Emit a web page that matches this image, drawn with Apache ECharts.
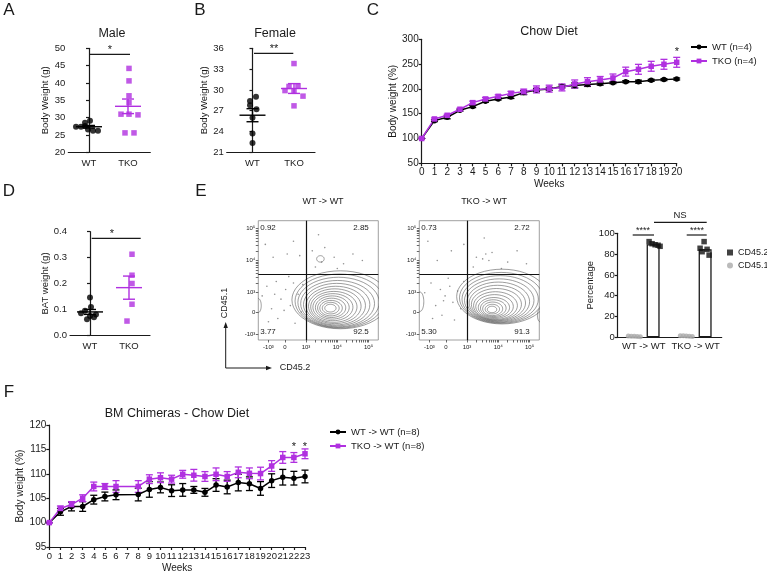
<!DOCTYPE html>
<html><head><meta charset="utf-8">
<script src="https://cdn.jsdelivr.net/npm/echarts@6/dist/echarts.min.js"></script>
<style>html,body{margin:0;padding:0;background:#fff}#c{width:767px;height:574px}</style>
</head><body><div id="c"></div>
<script>
const FONT = 'Liberation Sans, Arial, Helvetica, sans-serif';
const PURPLE = '#b030e0';
const INK = '#1a1a1a';

// ---- Panel A / B / D : dot plots ----
const dotCats = ['WT', 'TKO'];
const maleWT = [27.4, 27.4, 28.5, 27.6, 29.1, 26.6, 26.2, 26.2];
const maleTKO = [44.2, 40.6, 36.3, 34.3, 31.0, 31.0, 30.8, 25.6, 25.6];
const femaleWT = [29.0, 28.4, 27.8, 27.2, 26.0, 23.7, 22.35];
const femaleTKO = [33.8, 30.5, 30.6, 29.9, 29.8, 29.1, 27.7];
const batWT = [0.146, 0.109, 0.095, 0.085, 0.08, 0.075, 0.07, 0.062];
const batTKO = [0.313, 0.232, 0.2, 0.12, 0.055];
// horizontal jitter (px) of each dot
const maleWTJit = [-13, -8, -4, -4, 1, -1, 4, 9];
const maleTKOJit = [1, 1, 1, 1, -7, 1, 10, -3, 6];
const femaleWTJit = [3.5, -2.5, -2.5, 4, 0, 0, 0];
const femaleTKOJit = [0, -5, 4, -9, 0, 9, 0];
const batWTJit = [0, 1, -5, -9, 6, 0, 4, -3];
const batTKOJit = [3, 3, 3, 3, -2];

// ---- Panel C : Chow diet ----
const weeksC = [0,1,2,3,4,5,6,7,8,9,10,11,12,13,14,15,16,17,18,19,20];
const chowWT = [100,136,142.7,157,164.3,175,179.7,183.7,192.5,198,200,205,207,209,210.6,212.6,214.6,214.6,217.3,218.7,220];
const chowWTsem = [0,2,3,2,2,2,2,3,4,3,3,3,5,4,3,2,2,3,2,2,2];
const chowTKO = [100,139.4,146.8,159,172.3,179.7,185,191,194.5,199,200.5,203,210,214.6,218,222,234.8,239.5,245.6,249.6,253.6];
const chowTKOsem = [0,2,2,2,3,3,3,4,5,7,7,7,8,8,7,8,9,10,10,10,10];

// ---- Panel E : flow + bar ----
const flowXTicks = [1.80, 2.33, 3, 4, 5];
const flowXTickLabels = ['-10³', '0', '10³', '10⁴', '10⁵'];
const flowYTicks = [1.717, 2.379, 3, 4, 5];
const flowYTickLabels = ['-10³', '0', '10³', '10⁴', '10⁵'];
const quadWT = ['0.92', '2.85', '3.77', '92.5'];
const quadTKO = ['0.73', '2.72', '5.30', '91.3'];
// contour levels: [centreX, centreY, radiusX, radiusY] in display units
const contoursWT = [
  [4.10,2.78,1.55,0.90],[4.07,2.74,1.42,0.84],[4.04,2.70,1.30,0.78],[4.01,2.66,1.18,0.72],
  [3.98,2.63,1.06,0.66],[3.95,2.60,0.95,0.60],[3.92,2.58,0.84,0.54],[3.89,2.56,0.74,0.48],
  [3.86,2.55,0.64,0.42],[3.84,2.54,0.54,0.36],[3.82,2.53,0.45,0.30],[3.80,2.52,0.36,0.24],
  [3.79,2.52,0.27,0.18],[3.78,2.52,0.18,0.12],[3.46,4.05,0.12,0.10],[1.47,2.60,0.10,0.22]
];
const contoursTKO = [
  [4.12,2.88,1.45,0.85],[4.09,2.84,1.33,0.79],[4.06,2.80,1.22,0.73],[4.03,2.76,1.11,0.67],
  [4.00,2.72,1.00,0.61],[3.97,2.68,0.90,0.55],[3.94,2.64,0.80,0.49],[3.91,2.60,0.70,0.43],
  [3.88,2.57,0.60,0.37],[3.86,2.54,0.50,0.31],[3.84,2.52,0.41,0.26],[3.82,2.50,0.32,0.21],
  [3.81,2.49,0.23,0.15],[3.80,2.48,0.15,0.10],[1.50,2.72,0.12,0.30],[5.33,2.30,0.08,0.20]
];
const eventsWT = [[1.6,2.9],[1.75,3.2],[1.9,2.5],[2.05,3.35],[2.2,2.8],[2.35,3.1],[2.5,2.6],[2.6,3.3],[2.75,2.95],[2.85,2.4],[2.45,3.5],[2.1,2.2],[1.8,2.1],[2.65,2.05],[2.9,3.25],[1.95,4.1],[2.4,4.2],[2.8,4.15],[3.2,4.3],[3.5,3.95],[3.6,4.4],[3.9,4.1],[4.2,3.9],[4.5,4.2],[4.8,4.0],[3.3,3.8],[4.0,3.75],[1.7,4.5],[2.6,4.6],[3.4,4.8],[2.3,2.45],[2.0,2.95]];
const eventsTKO = [[1.65,3.0],[1.85,3.3],[2.0,2.6],[2.15,3.1],[2.3,2.9],[2.45,3.2],[2.55,2.7],[2.7,3.05],[2.8,2.5],[2.9,3.35],[2.2,2.3],[1.9,2.2],[2.6,2.15],[2.4,3.45],[2.05,4.0],[2.5,4.3],[3.3,4.1],[3.5,4.05],[3.6,4.2],[3.7,4.0],[3.8,4.25],[4.3,3.95],[4.6,4.3],[3.2,3.8],[4.1,3.75],[1.75,4.6],[2.9,4.5],[3.55,4.7],[4.9,3.9],[2.25,2.75]];
const barCats = ['WT -> WT', 'TKO -> WT'];
const cd452WT = [92, 90, 89, 88.5, 87.5];
const cd452TKO = [92, 85.6, 84.6, 82.3, 79];
const cd451WT = [1.3, 1.0, 0.9, 0.8, 0.6];
const cd451TKO = [1.6, 1.4, 1.2, 1.0, 0.8];
const cd452WTJit = [-4, -1, 2, 5, 7];
const cd452TKOJit = [-1, -5, 2, -3, 4];
const cd451Jit = [-6, -3, 0, 3, 6];

// ---- Panel F : BM chimeras ----
const weeksF = [0,1,2,3,4,5,6,8,9,10,11,12,13,14,15,16,17,18,19,20,21,22,23];
const chimWT = [100,102.2,103.3,103.3,104.7,105.35,105.7,105.75,106.8,107.2,106.55,106.7,106.7,106.2,107.7,107.3,108.2,107.97,107.0,108.6,109.3,109.1,109.45];
const chimWTsem = [0,0.7,0.9,1.0,0.9,0.9,1.0,1.3,1.6,1.1,1.2,1.3,0.7,0.8,1.3,1.4,1.7,1.4,1.4,1.4,1.6,1.4,1.3];
const chimTKO = [100,102.9,103.7,105.0,107.4,107.4,107.4,107.4,108.9,109.2,108.9,109.9,109.7,109.45,109.9,109.45,110.3,110.1,110.05,111.6,113.35,113.35,114.1];
const chimTKOsem = [0,0.5,0.6,0.7,0.9,0.6,1.2,1.2,0.9,1.0,0.8,0.8,1.2,1.0,1.3,1.0,1.1,1.1,1.3,1.1,1.2,1.0,1.0];

// ---------- helpers ----------
const mean = a => a.reduce((s, v) => s + v, 0) / a.length;
const sem = a => { const m = mean(a); return Math.sqrt(a.reduce((s, v) => s + (v - m) * (v - m), 0) / (a.length - 1)) / Math.sqrt(a.length); };
const txt = (size, extra) => Object.assign({ fontSize: size, color: INK, fontFamily: FONT }, extra || {});

function yAxis(gi, min, max, interval, name, gap, fs, fmt) {
  return { type: 'value', gridIndex: gi, min, max, interval, name, nameLocation: 'middle', nameGap: gap,
    nameTextStyle: txt(fs), axisLine: { show: true, lineStyle: { color: INK, width: 1.2 } },
    axisTick: { show: true, length: 3, lineStyle: { color: INK, width: 1.2 } },
    axisLabel: txt(fs, { margin: 3, formatter: fmt }), splitLine: { show: false } };
}
function xDotAxis(gi, min, max) {
  return { type: 'value', gridIndex: gi, min, max,
    axisLine: { show: true, onZero: false, lineStyle: { color: INK, width: 1.2 } },
    axisTick: { show: false },
    axisLabel: txt(9.5, { margin: 6, customValues: [0, 1], formatter: v => dotCats[Math.round(v)] }),
    splitLine: { show: false } };
}
function dotSeries(gi, vals, jit, x, symbol, color, size) {
  return { type: 'scatter', xAxisIndex: gi, yAxisIndex: gi, symbol, symbolSize: size, z: 3,
    itemStyle: { color }, silent: true,
    data: vals.map((v, i) => ({ value: [x, v], symbolOffset: [jit[i], 0] })) };
}
function meanSemSeries(gi, vals, x, color) {
  return { type: 'custom', xAxisIndex: gi, yAxisIndex: gi, z: 4, silent: true,
    itemStyle: { color },
    data: [[x, mean(vals), sem(vals)]],
    renderItem: (p, api) => {
      const xv = api.value(0), m = api.value(1), s = api.value(2);
      const c = api.coord([xv, m]), lo = api.coord([xv, m - s]), hi = api.coord([xv, m + s]);
      const st = { stroke: color, lineWidth: 1.4 };
      return { type: 'group', children: [
        { type: 'line', shape: { x1: c[0] - 13, y1: c[1], x2: c[0] + 13, y2: c[1] }, style: st },
        { type: 'line', shape: { x1: lo[0], y1: lo[1], x2: hi[0], y2: hi[1] }, style: st },
        { type: 'line', shape: { x1: lo[0] - 6, y1: lo[1], x2: lo[0] + 6, y2: lo[1] }, style: st },
        { type: 'line', shape: { x1: hi[0] - 6, y1: hi[1], x2: hi[0] + 6, y2: hi[1] }, style: st }
      ] };
    } };
}
function errSeries(gi, xs, ys, es, color, cap) {
  return { type: 'custom', xAxisIndex: gi, yAxisIndex: gi, z: 2, silent: true, itemStyle: { color },
    encode: { x: 0, y: [1, 2] },
    data: xs.map((x, i) => [x, ys[i] - es[i], ys[i] + es[i]]),
    renderItem: (p, api) => {
      const xv = api.value(0);
      const lo = api.coord([xv, api.value(1)]), hi = api.coord([xv, api.value(2)]);
      const st = { stroke: color, lineWidth: 1.3 };
      return { type: 'group', children: [
        { type: 'line', shape: { x1: lo[0], y1: lo[1], x2: hi[0], y2: hi[1] }, style: st },
        { type: 'line', shape: { x1: lo[0] - cap, y1: lo[1], x2: lo[0] + cap, y2: lo[1] }, style: st },
        { type: 'line', shape: { x1: hi[0] - cap, y1: hi[1], x2: hi[0] + cap, y2: hi[1] }, style: st }
      ] };
    } };
}
function lineSeries(gi, name, xs, ys, color, symbol) {
  return { type: 'line', name, xAxisIndex: gi, yAxisIndex: gi, symbol, symbolSize: 5.5, z: 3,
    lineStyle: { color, width: 1.5 }, itemStyle: { color }, silent: true,
    data: xs.map((x, i) => [x, ys[i]]) };
}
const logMinor = [];
[3, 4].forEach(d => [2,3,4,5,6,7,8,9].forEach(k => logMinor.push(d + Math.log10(k))));
function flowXAxis(gi) {
  return { type: 'value', gridIndex: gi, min: 1.476, max: 5.31,
    axisLine: { show: false }, splitLine: { show: false },
    axisTick: { show: true, length: 2.5, customValues: flowXTicks.concat(logMinor), lineStyle: { color: '#444', width: 0.8 } },
    axisLabel: txt(6, { margin: 4, customValues: flowXTicks, formatter: v => flowXTickLabels[flowXTicks.indexOf(v)] }) };
}
function flowYAxis(gi) {
  return { type: 'value', gridIndex: gi, min: 1.531, max: 5.236,
    axisLine: { show: false }, splitLine: { show: false },
    axisTick: { show: true, length: 2.5, customValues: flowYTicks.concat(logMinor), lineStyle: { color: '#444', width: 0.8 } },
    axisLabel: txt(6, { margin: 3, customValues: flowYTicks, formatter: v => flowYTickLabels[flowYTicks.indexOf(v)] }) };
}
function contourSeries(gi, levels) {
  return { type: 'custom', xAxisIndex: gi, yAxisIndex: gi, clip: true, silent: true, z: 2,
    data: levels,
    renderItem: (p, api) => {
      const c = api.coord([api.value(0), api.value(1)]);
      const s = api.size([api.value(2), api.value(3)]);
      const pts = [];
      for (let k = 0; k < 48; k++) {
        const a = k / 48 * Math.PI * 2;
        pts.push([c[0] + s[0] * Math.cos(a), c[1] - s[1] * Math.sin(a)]);
      }
      return { type: 'polygon', shape: { points: pts }, style: { fill: 'none', stroke: '#5a5a5a', lineWidth: 0.6 } };
    },
    markLine: { silent: true, symbol: ['none', 'none'], animation: false, label: { show: false },
      lineStyle: { color: '#111', width: 1.2, type: 'solid' },
      data: [{ xAxis: 3 }, { yAxis: 3.58 }] } };
}
function eventSeries(gi, pts) {
  return { type: 'scatter', xAxisIndex: gi, yAxisIndex: gi, symbolSize: 1.6, silent: true,
    itemStyle: { color: '#777' }, data: pts };
}

// ---------- chart ----------
const chart = echarts.init(document.getElementById('c'), null, { renderer: 'canvas' });

const grid = [
  { left: 68.3, top: 48.3, width: 82, height: 104 },      // 0 A
  { left: 226.7, top: 48.3, width: 88.3, height: 104 },   // 1 B
  { left: 421.7, top: 39.3, width: 255, height: 124 },    // 2 C
  { left: 70, top: 231.7, width: 80, height: 103.6 },     // 3 D
  { left: 258.3, top: 220.7, width: 120, height: 119.3, show: true, borderColor: '#888', borderWidth: 0.8 }, // 4 flow1
  { left: 419.3, top: 220.7, width: 120, height: 119.3, show: true, borderColor: '#888', borderWidth: 0.8 }, // 5 flow2
  { left: 617.7, top: 233.3, width: 104, height: 104 },   // 6 E bar
  { left: 49.3, top: 425, width: 255.7, height: 124 }     // 7 F
];

const xAxis = [
  xDotAxis(0, -0.5307, 1.5719),
  xDotAxis(1, -0.6217, 1.506),
  { type: 'value', gridIndex: 2, min: 0, max: 20, interval: 1, name: 'Weeks', nameLocation: 'middle', nameGap: 16,
    nameTextStyle: txt(10), axisLine: { show: true, onZero: false, lineStyle: { color: INK, width: 1.2 } },
    axisTick: { length: 3, lineStyle: { color: INK, width: 1.2 } }, axisLabel: txt(10, { margin: 4 }), splitLine: { show: false } },
  xDotAxis(3, -0.5128, 1.5385),
  flowXAxis(4),
  flowXAxis(5),
  { type: 'category', gridIndex: 6, data: barCats, axisLine: { show: true, lineStyle: { color: INK, width: 1.2 } },
    axisTick: { show: false }, axisLabel: txt(9.5, { margin: 4, interval: 0 }) },
  { type: 'value', gridIndex: 7, min: 0, max: 23, interval: 1, name: 'Weeks', nameLocation: 'middle', nameGap: 16,
    nameTextStyle: txt(10), axisLine: { show: true, onZero: false, lineStyle: { color: INK, width: 1.2 } },
    axisTick: { length: 3, lineStyle: { color: INK, width: 1.2 } }, axisLabel: txt(9.5, { margin: 4 }), splitLine: { show: false } }
];

const yAxisArr = [
  yAxis(0, 20, 50, 5, 'Body Weight (g)', 18, 9.5),
  yAxis(1, 21, 36, 3, 'Body Weight (g)', 13, 9.5),
  yAxis(2, 50, 300, 50, 'Body weight (%)', 20, 10),
  yAxis(3, 0, 0.4, 0.1, 'BAT weight (g)', 19, 9.5, v => v.toFixed(1)),
  flowYAxis(4),
  flowYAxis(5),
  yAxis(6, 0, 100, 20, 'Percentage', 20, 9.5),
  yAxis(7, 95, 120, 5, 'Body weight (%)', 21, 10)
];

const series = [
  // A
  dotSeries(0, maleWT, maleWTJit, 0, 'circle', '#000', 6),
  dotSeries(0, maleTKO, maleTKOJit, 1, 'rect', PURPLE, 5.5),
  meanSemSeries(0, maleWT, 0, '#000'),
  meanSemSeries(0, maleTKO, 1, PURPLE),
  // B
  dotSeries(1, femaleWT, femaleWTJit, 0, 'circle', '#000', 6),
  dotSeries(1, femaleTKO, femaleTKOJit, 1, 'rect', PURPLE, 5.5),
  meanSemSeries(1, femaleWT, 0, '#000'),
  meanSemSeries(1, femaleTKO, 1, PURPLE),
  // C
  errSeries(2, weeksC, chowWT, chowWTsem, '#000', 3.5),
  errSeries(2, weeksC, chowTKO, chowTKOsem, PURPLE, 3.5),
  lineSeries(2, 'WT (n=4)', weeksC, chowWT, '#000', 'circle'),
  lineSeries(2, 'TKO (n=4)', weeksC, chowTKO, PURPLE, 'rect'),
  // D
  dotSeries(3, batWT, batWTJit, 0, 'circle', '#000', 6),
  dotSeries(3, batTKO, batTKOJit, 1, 'rect', PURPLE, 5.5),
  meanSemSeries(3, batWT, 0, '#000'),
  meanSemSeries(3, batTKO, 1, PURPLE),
  // E flow
  contourSeries(4, contoursWT),
  eventSeries(4, eventsWT),
  contourSeries(5, contoursTKO),
  eventSeries(5, eventsTKO),
  // E bar
  { type: 'bar', name: 'CD45.1 bar', xAxisIndex: 6, yAxisIndex: 6, barWidth: 13, barGap: '45%', silent: true,
    itemStyle: { color: '#fff', borderColor: '#aaa', borderWidth: 1 }, data: [mean(cd451WT), mean(cd451TKO)] },
  { type: 'bar', name: 'CD45.2 bar', xAxisIndex: 6, yAxisIndex: 6, barWidth: 13, barGap: '45%', silent: true,
    itemStyle: { color: '#fff', borderColor: INK, borderWidth: 1.3 }, data: [mean(cd452WT), mean(cd452TKO)] },
  { type: 'scatter', name: 'CD45.2', xAxisIndex: 6, yAxisIndex: 6, symbol: 'rect', symbolSize: 5.5, z: 4, silent: true,
    itemStyle: { color: '#111' },
    data: cd452WT.map((v, i) => ({ value: [0, v], symbolOffset: [9.4 + cd452WTJit[i], 0] }))
      .concat(cd452TKO.map((v, i) => ({ value: [1, v], symbolOffset: [9.4 + cd452TKOJit[i], 0] }))) },
  { type: 'scatter', name: 'CD45.1', xAxisIndex: 6, yAxisIndex: 6, symbol: 'circle', symbolSize: 5, z: 4, silent: true,
    itemStyle: { color: '#aaa' },
    data: cd451WT.map((v, i) => ({ value: [0, v], symbolOffset: [-9.4 + cd451Jit[i], 0] }))
      .concat(cd451TKO.map((v, i) => ({ value: [1, v], symbolOffset: [-9.4 + cd451Jit[i], 0] }))) },
  // F
  errSeries(7, weeksF, chimWT, chimWTsem, '#000', 3.5),
  errSeries(7, weeksF, chimTKO, chimTKOsem, PURPLE, 3.5),
  lineSeries(7, 'WT -> WT (n=8)', weeksF, chimWT, '#000', 'circle'),
  lineSeries(7, 'TKO -> WT (n=8)', weeksF, chimTKO, PURPLE, 'rect')
];

const legend = [
  { left: 685, top: 37, orient: 'vertical', itemGap: 4, itemWidth: 16, itemHeight: 6, selectedMode: false,
    textStyle: txt(9.5), data: ['WT (n=4)', 'TKO (n=4)'] },
  { left: 722, top: 243, orient: 'vertical', itemGap: 4, itemWidth: 6, itemHeight: 6, selectedMode: false,
    textStyle: txt(9), data: ['CD45.2', 'CD45.1'] },
  { left: 324, top: 422, orient: 'vertical', itemGap: 4, itemWidth: 16, itemHeight: 6, selectedMode: false,
    textStyle: txt(9.5), data: ['WT -> WT (n=8)', 'TKO -> WT (n=8)'] }
];

const T = (text, x, y, size, extra) => Object.assign({ type: 'text', x, y, silent: true,
  style: { text, fontSize: size, fontFamily: FONT, fill: INK, textAlign: 'center', textVerticalAlign: 'middle' } }, extra || {});
const L = (x1, y1, x2, y2, w) => ({ type: 'line', silent: true, shape: { x1, y1, x2, y2 }, style: { stroke: INK, lineWidth: w || 1.2 } });
const graphic = [
  // panel letters
  T('A', 9, 10, 17), T('B', 200, 10, 17), T('C', 373, 10, 17),
  T('D', 9, 191, 17), T('E', 201, 191, 17), T('F', 9, 392, 17),
  // titles
  T('Male', 112, 34, 12.5), T('Female', 275, 34, 12.5), T('Chow Diet', 549, 32, 12.5),
  T('BM Chimeras - Chow Diet', 177, 414, 12.5),
  T('WT -> WT', 323, 202, 9), T('TKO -> WT', 484, 202, 9),
  // significance
  L(89, 54.3, 130, 54.3), T('*', 110, 50, 11),
  L(254, 53.3, 293.3, 53.3), T('**', 274, 49, 11),
  L(91.7, 238.3, 140.7, 238.3), T('*', 112, 234, 11),
  T('*', 677, 52, 11),
  T('*', 294, 447, 11), T('*', 305, 447, 11),
  L(632.7, 235, 654, 235), T('****', 643, 231, 9),
  L(686.7, 235, 706.7, 235), T('****', 697, 231, 9),
  L(654, 222.3, 706.7, 222.3), T('NS', 680, 215, 9.5),
  // flow quadrant frequencies
  T(quadWT[0], 268, 228, 8), T(quadWT[1], 361, 228, 8), T(quadWT[2], 268, 332, 8), T(quadWT[3], 361, 332, 8),
  T(quadTKO[0], 429, 228, 8), T(quadTKO[1], 522, 228, 8), T(quadTKO[2], 429, 332, 8), T(quadTKO[3], 522, 332, 8),
  // flow axis arrows
  L(225.7, 368, 225.7, 327, 1), L(225.7, 368, 267, 368, 1),
  { type: 'polygon', silent: true, shape: { points: [[223.5, 328], [227.9, 328], [225.7, 322]] }, style: { fill: INK } },
  { type: 'polygon', silent: true, shape: { points: [[266, 365.8], [266, 370.2], [272, 368]] }, style: { fill: INK } },
  T('CD45.1', 225, 303, 9, { rotation: Math.PI / 2 }),
  T('CD45.2', 295, 368, 9)
];

chart.setOption({
  animation: false,
  backgroundColor: '#fff',
  textStyle: { fontFamily: FONT },
  grid, xAxis, yAxis: yAxisArr, series, legend, graphic
});
</script>
</body></html>
